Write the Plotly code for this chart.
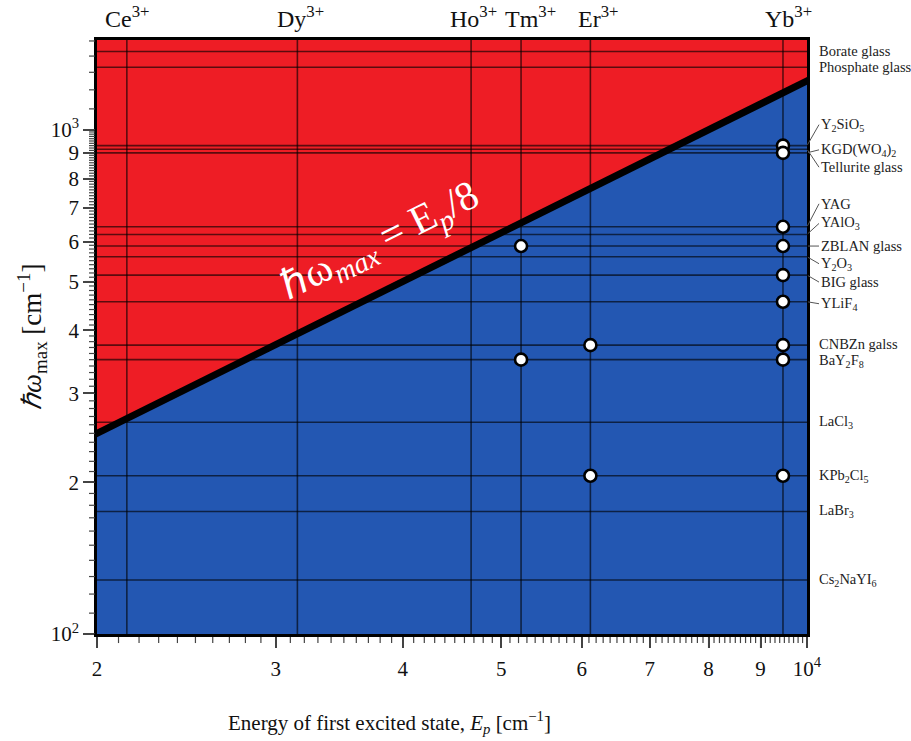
import numpy as np
import plotly.graph_objects as go

# ---------------- data ----------------
ions = ["Ce", "Dy", "Ho", "Tm", "Er", "Yb"]
ion_energy = [2140, 3150, 4670, 5230, 6120, 9470]          # cm^-1, first excited state

materials = ["Borate glass", "Phosphate glass", "Y2SiO5", "KGD(WO4)2", "Tellurite glass",
             "YAG", "YAlO3", "ZBLAN glass", "Y2O3", "BIG glass", "YLiF4",
             "CNBZn galss", "BaY2F8", "LaCl3", "KPb2Cl5", "LaBr3", "Cs2NaYI6"]
material_text = ["Borate glass", "Phosphate glass", "Y<sub>2</sub>SiO<sub>5</sub>",
                 "KGD(WO<sub>4</sub>)<sub>2</sub>", "Tellurite glass", "YAG", "YAlO<sub>3</sub>",
                 "ZBLAN glass", "Y<sub>2</sub>O<sub>3</sub>", "BIG glass", "YLiF<sub>4</sub>",
                 "CNBZn galss", "BaY<sub>2</sub>F<sub>8</sub>", "LaCl<sub>3</sub>",
                 "KPb<sub>2</sub>Cl<sub>5</sub>", "LaBr<sub>3</sub>", "Cs<sub>2</sub>NaYI<sub>6</sub>"]
phonon = [1430, 1330, 930, 900, 915, 642, 620, 588, 560, 515, 456,
          374, 350, 263, 206, 175, 128]                      # cm^-1, max phonon energy

# (ion, material) pairs that are marked with a circle
point_ion = ["Tm", "Tm", "Er", "Er",
             "Yb", "Yb", "Yb", "Yb", "Yb", "Yb", "Yb", "Yb", "Yb"]
point_mat = ["ZBLAN glass", "BaY2F8", "CNBZn galss", "KPb2Cl5",
             "Y2SiO5", "KGD(WO4)2", "YAG", "ZBLAN glass", "BIG glass", "YLiF4",
             "CNBZn galss", "BaY2F8", "KPb2Cl5"]

ratio = 8                      # hbar*omega_max = E_p / 8
x_tick_vals = [2000, 3000, 4000, 5000, 6000, 7000, 8000, 9000, 10000]
x_tick_text = ["2", "3", "4", "5", "6", "7", "8", "9", "10<sup>4</sup>"]
y_tick_vals = [100, 200, 300, 400, 500, 600, 700, 800, 900, 1000]
y_tick_text = ["10<sup>2</sup>", "2", "3", "4", "5", "6", "7", "8", "9", "10<sup>3</sup>"]

# ---------------- styling ----------------
RED = "#EE1D25"
BLUE = "#2357B2"
GRID = "rgba(0,0,0,0.62)"
SERIF = "Liberation Serif"
TICK = "#444"
X_RANGE = [np.log10(2000), 4.0]
Y_RANGE = [2.0, 3.178]
LABEL_SIZE = 14.5

# page geometry (pixels)
ML, MR, MT, MB = 80, 104, 40, 90
PW, PH = 911 - ML - MR, 741 - MT - MB       # paper area between margins
GAP = 17                                     # room left/below the plot for tick strips

# pixel offsets of right-hand labels relative to their line (positive = up)
label_dy = [0, 0, 21, 3, -18, 23, 11, 0, -7, -7, -2, 1, -1, 0, 0, 0, 0]
label_leader = [False, False, True, True, True, True, True, True, True, True, True,
                False, False, False, False, False, False]
ion_dx = [1, 3, 2, 9, 8, 6]

fig = go.Figure()

lo, hi = 1000, 20000
# red background and blue region below the line
fig.add_trace(go.Scatter(x=[lo, lo, hi, hi], y=[50, 5000, 5000, 50],
                         fill="toself", fillcolor=RED, mode="lines",
                         line=dict(width=0), hoverinfo="skip", showlegend=False))
fig.add_trace(go.Scatter(x=[lo, lo, hi, hi], y=[50, lo / ratio, hi / ratio, 50],
                         fill="toself", fillcolor=BLUE, mode="lines",
                         line=dict(width=0), hoverinfo="skip", showlegend=False))

# horizontal material lines
hx, hy = [], []
for v in phonon:
    hx += [lo, hi, None]
    hy += [v, v, None]
fig.add_trace(go.Scatter(x=hx, y=hy, mode="lines", line=dict(color=GRID, width=1.6),
                         hoverinfo="skip", showlegend=False))
# vertical ion lines
vx, vy = [], []
for e in ion_energy:
    vx += [e, e, None]
    vy += [50, 5000, None]
fig.add_trace(go.Scatter(x=vx, y=vy, mode="lines", line=dict(color=GRID, width=1.6),
                         hoverinfo="skip", showlegend=False))

# boundary line
fig.add_trace(go.Scatter(x=[lo, hi], y=[lo / ratio, hi / ratio], mode="lines",
                         line=dict(color="black", width=7), hoverinfo="skip", showlegend=False))

# circles
ion_map = dict(zip(ions, ion_energy))
mat_map = dict(zip(materials, phonon))
fig.add_trace(go.Scatter(x=[ion_map[i] for i in point_ion], y=[mat_map[m] for m in point_mat],
                         mode="markers", cliponaxis=False,
                         marker=dict(size=12, color="white", line=dict(color="black", width=2.6)),
                         showlegend=False))

# tick marks drawn as short line traces in thin strips that share the main log ranges
x_minor = [v for v in range(2100, 10000, 100) if v % 1000 != 0]
y_minor = [v for v in range(110, 1000, 10) if v % 100 != 0] + list(range(1100, 1600, 100))

mx, my = [], []
for v in x_tick_vals:
    mx += [v, v, None]
    my += [0.0, 1.0, None]
for v in x_minor:
    mx += [v, v, None]
    my += [0.45, 1.0, None]
fig.add_trace(go.Scatter(x=mx, y=my, xaxis="x2", yaxis="y3", mode="lines",
                         line=dict(color=TICK, width=1.2), hoverinfo="skip", showlegend=False))
nx, ny = [], []
for v in y_tick_vals:
    nx += [0.0, 1.0, None]
    ny += [v, v, None]
for v in y_minor:
    nx += [0.4, 1.0, None]
    ny += [v, v, None]
fig.add_trace(go.Scatter(x=nx, y=ny, xaxis="x3", yaxis="y2", mode="lines",
                         line=dict(color=TICK, width=1.2), hoverinfo="skip", showlegend=False))


def px_x(p):   # pixel x -> paper x
    return (p - ML) / PW


def px_y(p):   # pixel y -> paper y
    return (741 - MB - p) / PH


annotations = []
# ion labels on top
for name, e, dx in zip(ions, ion_energy, ion_dx):
    annotations.append(dict(x=np.log10(e), y=1, xref="x", yref="paper", yanchor="bottom",
                            yshift=6, xshift=dx, showarrow=False,
                            text=f"{name}<sup>3+</sup>",
                            font=dict(family=SERIF, size=24, color="#111")))
# material labels on the right
for txt, v, dy, lead in zip(material_text, phonon, label_dy, label_leader):
    if lead:
        annotations.append(dict(x=1.0, y=np.log10(v), xref="paper", yref="y",
                                ax=12, ay=-dy, axref="pixel", ayref="pixel",
                                xanchor="left", yanchor="middle", showarrow=True,
                                arrowhead=0, arrowwidth=1, arrowcolor="#555",
                                standoff=1, startstandoff=0,
                                text=txt, font=dict(family=SERIF, size=LABEL_SIZE, color="#222")))
    else:
        annotations.append(dict(x=1.0, y=np.log10(v), xref="paper", yref="y",
                                xanchor="left", yanchor="middle", xshift=10, yshift=dy,
                                showarrow=False, text=txt,
                                font=dict(family=SERIF, size=LABEL_SIZE, color="#222")))
# formula on the line
annotations.append(dict(x=np.log10(3800), y=np.log10(600), xref="x", yref="y",
                        showarrow=False, textangle=-26.5,
                        text="ℏω<sub><i>max</i></sub> = E<sub><i>p</i></sub>/8",
                        font=dict(family=SERIF, size=41, color="white")))
# axis titles
annotations.append(dict(x=px_x(32), y=px_y(337), xref="paper", yref="paper", showarrow=False,
                        xanchor="center", yanchor="middle",
                        textangle=-90, text="<i>ℏω</i><sub>max</sub> [cm<sup>−1</sup>]",
                        font=dict(family=SERIF, size=27, color="#111")))
annotations.append(dict(x=px_x(389), y=px_y(722), xref="paper", yref="paper", showarrow=False,
                        xanchor="center", yanchor="middle",
                        text="Energy of first excited state, <i>E<sub>p</sub></i> [cm<sup>−1</sup>]",
                        font=dict(family=SERIF, size=21, color="#111")))

fig.update_layout(
    width=911, height=741, autosize=False,
    margin=dict(l=ML, r=MR, t=MT, b=MB),
    paper_bgcolor="white", plot_bgcolor="white",
    annotations=annotations,
    xaxis=dict(type="log", range=X_RANGE, showgrid=False, zeroline=False,
               domain=[GAP / PW, 1], anchor="y",
               tickmode="array", tickvals=x_tick_vals, ticktext=x_tick_text,
               ticks="outside", ticklen=11, tickwidth=1.5, tickcolor=TICK,
               ticklabelstandoff=3,
               showline=True, linecolor="black", linewidth=2.5, mirror=True,
               tickfont=dict(family=SERIF, size=21, color="#111")),
    yaxis=dict(type="log", range=Y_RANGE, showgrid=False, zeroline=False,
               domain=[GAP / PH, 1], anchor="x",
               tickmode="array", tickvals=y_tick_vals, ticktext=y_tick_text,
               ticks="outside", ticklen=11, tickwidth=1.5, tickcolor=TICK,
               showline=True, linecolor="black", linewidth=2.5, mirror=True,
               tickfont=dict(family=SERIF, size=21, color="#111")),
    # strip below the plot (x ticks)
    xaxis2=dict(type="log", range=X_RANGE, domain=[GAP / PW, 1], anchor="y3", visible=False),
    yaxis3=dict(range=[0, 1], domain=[3 / PH, 14 / PH], anchor="x2", visible=False),
    # strip left of the plot (y ticks)
    xaxis3=dict(range=[0, 1], domain=[5 / PW, 15 / PW], anchor="y2", visible=False),
    yaxis2=dict(type="log", range=Y_RANGE, domain=[GAP / PH, 1], anchor="x3", visible=False),
)

fig.write_html("out.html")
